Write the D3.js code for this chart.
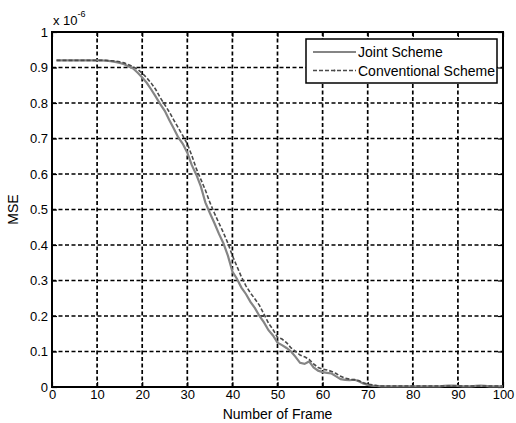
<!DOCTYPE html>
<html>
<head>
<meta charset="utf-8">
<script src="https://cdn.jsdelivr.net/npm/d3@7"></script>
<style>
  body { margin: 0; background: #fff; }
  text { font-family: "Liberation Sans", Arial, sans-serif; }
</style>
</head>
<body>
<div id="chart"></div>
<script>
  const seriesNames = ["Joint Scheme", "Conventional Scheme"];
  const xTicks = [0, 10, 20, 30, 40, 50, 60, 70, 80, 90, 100];
  const yTicks = [0, 0.1, 0.2, 0.3, 0.4, 0.5, 0.6, 0.7, 0.8, 0.9, 1];

  // MSE in units of 1e-6, frames 1..100
  const joint = [
    0.92, 0.92, 0.92, 0.92, 0.92, 0.92, 0.92, 0.92, 0.92, 0.92,
    0.92, 0.919, 0.918, 0.916, 0.913, 0.909, 0.903, 0.897, 0.885, 0.872,
    0.857, 0.838, 0.818, 0.797, 0.778, 0.752, 0.728, 0.703, 0.685, 0.66,
    0.625, 0.598, 0.565, 0.52, 0.49, 0.462, 0.432, 0.405, 0.37, 0.325,
    0.305, 0.28, 0.262, 0.24, 0.222, 0.2, 0.182, 0.16, 0.145, 0.125,
    0.118, 0.11, 0.1, 0.085, 0.068, 0.065, 0.072, 0.055, 0.046, 0.042,
    0.04, 0.038, 0.03, 0.022, 0.02, 0.019, 0.021, 0.016, 0.01, 0.006,
    0.004, 0.003, 0.002, 0.002, 0.002, 0.002, 0.002, 0.002, 0.002, 0.002,
    0.002, 0.002, 0.002, 0.002, 0.002, 0.002, 0.003, 0.004, 0.004, 0.003,
    0.002, 0.002, 0.002, 0.003, 0.004, 0.003, 0.002, 0.002, 0.002, 0.002
  ];
  const conventional = [
    0.92, 0.92, 0.92, 0.92, 0.92, 0.92, 0.92, 0.92, 0.92, 0.92,
    0.92, 0.92, 0.919, 0.918, 0.916, 0.913, 0.908, 0.902, 0.895, 0.884,
    0.871, 0.856, 0.838, 0.815, 0.795, 0.775, 0.752, 0.73, 0.708, 0.685,
    0.652, 0.615, 0.585, 0.555, 0.52, 0.49, 0.462, 0.435, 0.405, 0.37,
    0.34, 0.31, 0.285, 0.265, 0.248, 0.23, 0.205, 0.18, 0.162, 0.14,
    0.135, 0.125, 0.11, 0.1, 0.09, 0.085, 0.078, 0.065, 0.055, 0.05,
    0.048, 0.044, 0.038, 0.03, 0.025, 0.022, 0.02, 0.018, 0.012, 0.008,
    0.006, 0.004, 0.003, 0.003, 0.003, 0.003, 0.003, 0.003, 0.003, 0.003,
    0.003, 0.003, 0.003, 0.003, 0.003, 0.003, 0.003, 0.003, 0.003, 0.003,
    0.003, 0.003, 0.003, 0.003, 0.003, 0.003, 0.003, 0.003, 0.003, 0.003
  ];

  const W = 516, H = 423;
  const margin = { left: 52, right: 13, top: 32, bottom: 36 };

  const svg = d3.select("#chart").append("svg")
    .attr("width", W).attr("height", H);

  const x = d3.scaleLinear().domain([0, 100]).range([margin.left, W - margin.right]);
  const y = d3.scaleLinear().domain([0, 1]).range([H - margin.bottom, margin.top]);

  // grid
  const grid = svg.append("g")
    .attr("stroke", "#000").attr("stroke-width", 1.7).attr("stroke-dasharray", "4,2.5");
  grid.selectAll(".gx").data(xTicks.slice(1, -1)).enter().append("line")
    .attr("x1", d => x(d)).attr("x2", d => x(d))
    .attr("y1", y(0)).attr("y2", y(1));
  grid.selectAll(".gy").data(yTicks.slice(1, -1)).enter().append("line")
    .attr("y1", d => y(d)).attr("y2", d => y(d))
    .attr("x1", x(0)).attr("x2", x(100));

  // axes
  const tickLen = 5;
  const axBottom = svg.append("g").attr("transform", `translate(0,${y(0)})`)
    .call(d3.axisBottom(x).tickValues(xTicks).tickSize(-tickLen).tickPadding(3).tickFormat(d3.format("d")));
  const axTop = svg.append("g").attr("transform", `translate(0,${y(1)})`)
    .call(d3.axisTop(x).tickValues(xTicks).tickSize(-tickLen).tickFormat(""));
  const axLeft = svg.append("g").attr("transform", `translate(${x(0)},0)`)
    .call(d3.axisLeft(y).tickValues(yTicks).tickSize(-tickLen).tickPadding(4)
      .tickFormat(d => d === 0 || d === 1 ? d3.format("d")(d) : d3.format(".1f")(d)));
  const axRight = svg.append("g").attr("transform", `translate(${x(100)},0)`)
    .call(d3.axisRight(y).tickValues(yTicks).tickSize(-tickLen).tickFormat(""));
  [axBottom, axTop, axLeft, axRight].forEach(a => {
    a.select(".domain").remove();
    a.selectAll("line").attr("stroke", "#000").attr("stroke-width", 1.2);
    a.selectAll("text").attr("fill", "#000").style("font-size", "13px")
      .style("font-family", "'Liberation Sans', Arial, sans-serif");
  });

  svg.append("rect")
    .attr("x", x(0)).attr("y", y(1))
    .attr("width", x(100) - x(0)).attr("height", y(0) - y(1))
    .attr("fill", "none").attr("stroke", "#000").attr("stroke-width", 2);

  // series
  const line = d3.line().x((d, i) => x(i + 1)).y(d => y(d));
  svg.append("path").datum(joint)
    .attr("d", line).attr("fill", "none")
    .attr("stroke", "#858585").attr("stroke-width", 2.2);
  svg.append("path").datum(conventional)
    .attr("d", line).attr("fill", "none")
    .attr("stroke", "#4a4a4a").attr("stroke-width", 1.6).attr("stroke-dasharray", "4,2");

  // labels
  svg.append("text").attr("x", (x(0) + x(100)) / 2).attr("y", 419)
    .attr("text-anchor", "middle").style("font-size", "14px").text("Number of Frame");
  svg.append("text")
    .attr("transform", `translate(18,${(y(0) + y(1)) / 2}) rotate(-90)`)
    .attr("text-anchor", "middle").style("font-size", "14px").text("MSE");
  const exp = svg.append("text").attr("x", 53).attr("y", 25).style("font-size", "13px");
  exp.append("tspan").text("x 10");
  exp.append("tspan").attr("dy", -8).style("font-size", "9px").text("-6");

  // legend
  const lg = svg.append("g");
  lg.append("rect").attr("x", 306).attr("y", 39).attr("width", 191).attr("height", 44)
    .attr("fill", "#fff").attr("stroke", "#000").attr("stroke-width", 1.5);
  const legendStyles = [
    { stroke: "#858585", width: 2.2, dash: null },
    { stroke: "#4a4a4a", width: 1.6, dash: "4,2" }
  ];
  seriesNames.forEach((name, i) => {
    const yy = 52 + i * 18.5;
    lg.append("line").attr("x1", 313).attr("x2", 356).attr("y1", yy).attr("y2", yy)
      .attr("stroke", legendStyles[i].stroke).attr("stroke-width", legendStyles[i].width)
      .attr("stroke-dasharray", legendStyles[i].dash);
    lg.append("circle").attr("cx", 334.5).attr("cy", yy).attr("r", 1)
      .attr("fill", legendStyles[i].stroke);
    lg.append("text").attr("x", 358).attr("y", yy + 5).style("font-size", "14px").text(name);
  });
</script>
</body>
</html>
